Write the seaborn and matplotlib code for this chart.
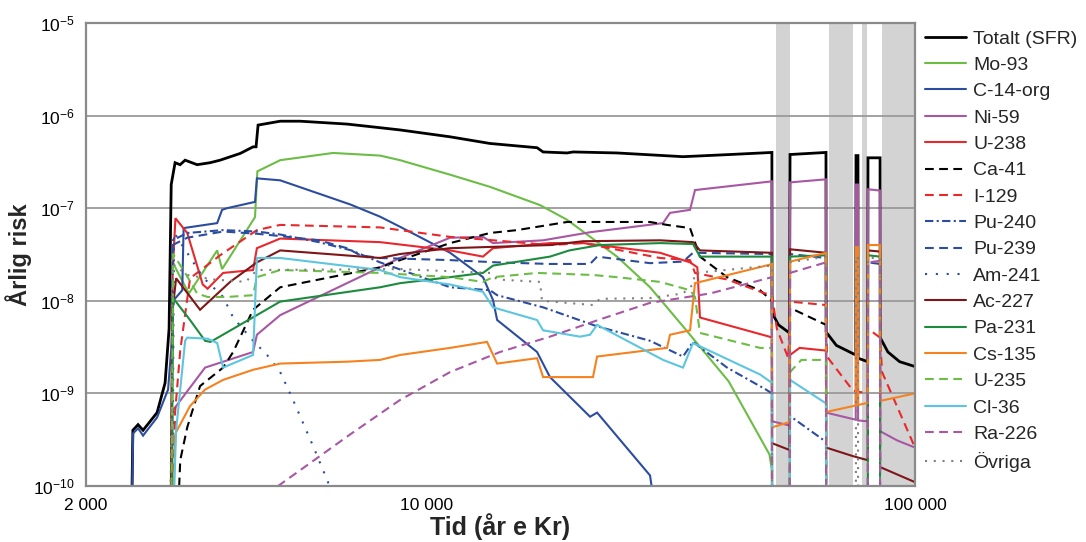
import numpy as np
import pandas as pd
import matplotlib
matplotlib.use('Agg')
import matplotlib.pyplot as plt
import seaborn as sns
from matplotlib.ticker import FixedLocator, FuncFormatter, NullFormatter

LOW = 1e-11  # below the axis floor, line runs off the bottom

# (year, annual risk)
totalt = [(2470, LOW), (2495, 4.0e-10), (2557, 4.6e-10), (2618, 4.0e-10), (2797, 6.2e-10), (2905, 1.3e-9),
          (2960, 5.0e-9), (2990, 1.8e-7), (3045, 3.1e-7), (3118, 2.95e-7), (3193, 3.3e-7), (3379, 2.95e-7),
          (3592, 3.1e-7), (3765, 3.3e-7), (4139, 3.9e-7), (4400, 4.6e-7), (4462, 4.6e-7), (4505, 7.9e-7),
          (5000, 8.7e-7), (5494, 8.7e-7), (6857, 8.1e-7), (8012, 7.4e-7), (8804, 7.0e-7), (11150, 5.9e-7),
          (13460, 5.0e-7), (16805, 4.5e-7), (17290, 4.05e-7), (19360, 3.95e-7), (19920, 4.05e-7),
          (24510, 3.95e-7), (33460, 3.6e-7), (41790, 3.8e-7), (50900, 4.0e-7), (50950, 7.4e-9),
          (52500, 5.5e-9), (55300, 4.5e-9), (55450, 3.8e-7), (65700, 4.0e-7), (65750, 4.6e-9),
          (69000, 3.3e-9), (75600, 2.6e-9), (75700, 3.7e-7), (76400, 3.7e-7), (76450, 2.4e-9),
          (80000, 2.2e-9), (80100, 3.5e-7), (84800, 3.5e-7), (84850, 4.0e-9), (88000, 2.8e-9),
          (93000, 2.2e-9), (100000, 1.95e-9)]
mo93 = [(2985, LOW), (3005, 2.7e-8), (3060, 2.2e-8), (3250, 1.2e-8), (3714, 3.5e-8), (3801, 2.2e-8),
        (4440, 8.0e-8), (4490, 2.5e-7), (5000, 3.3e-7), (6417, 3.95e-7), (8012, 3.7e-7), (8804, 3.3e-7),
        (11150, 2.3e-7), (13460, 1.7e-7), (17043, 1.08e-7), (19360, 7.5e-8), (24510, 3.0e-8),
        (28640, 1.4e-8), (33460, 5.3e-9), (41500, 1.35e-9), (50300, 2.2e-10), (50900, 1.5e-10), (50950, LOW)]
c14org = [(2470, LOW), (2498, 3.7e-10), (2557, 4.2e-10), (2618, 3.5e-10), (2797, 5.5e-10), (2946, 1.1e-9),
          (2990, 3.0e-9), (3017, 1.0e-8), (3150, 1.3e-8), (3170, 6.1e-8), (3714, 6.9e-8), (3801, 9.6e-8),
          (3890, 1.0e-7), (4440, 1.17e-7), (4480, 2.1e-7), (5000, 2.0e-7), (6953, 1.1e-7), (8012, 8.1e-8),
          (8804, 6.3e-8), (11150, 3.3e-8), (13020, 1.8e-8), (13650, 1.02e-8), (13920, 6.2e-9),
          (16805, 2.8e-9), (17860, 1.5e-9), (21580, 5.6e-10), (22310, 6.2e-10), (28640, 1.3e-10), (30740, LOW)]
ni59 = [(2990, LOW), (3010, 6.5e-10), (3508, 1.9e-9), (4400, 2.8e-9), (4480, 4.3e-9), (5000, 7.0e-9),
        (8012, 2.3e-8), (8804, 2.9e-8), (11150, 4.8e-8), (13020, 4.9e-8), (13650, 4.2e-8), (17290, 4.5e-8),
        (21580, 5.5e-8), (30450, 6.9e-8), (31470, 8.9e-8), (34590, 9.6e-8), (35410, 1.57e-7),
        (50900, 1.95e-7), (50950, 5.0e-10), (55300, 4.5e-10), (55450, 1.9e-7), (65700, 2.05e-7),
        (65750, 6.2e-10), (75600, 5.2e-10), (75700, 1.8e-7), (76400, 1.8e-7), (76450, 5.1e-10),
        (80000, 5.0e-10), (80100, 1.6e-7), (84800, 1.55e-7), (84850, 3.9e-10), (92000, 3.1e-10),
        (100000, 2.6e-10)]
u238 = [(2975, LOW), (3010, 2.0e-8), (3050, 7.8e-8), (3225, 5.4e-8), (3470, 1.5e-8), (3550, 1.35e-8),
        (3820, 2.0e-8), (4400, 2.15e-8), (4480, 3.7e-8), (5000, 4.7e-8), (8012, 4.3e-8), (11150, 3.5e-8),
        (13020, 3.0e-8), (13650, 3.7e-8), (17860, 4.2e-8), (20880, 4.2e-8), (30030, 3.3e-8),
        (34590, 2.6e-8), (35800, 2.3e-8), (36250, 6.6e-9), (50300, 4.1e-9), (50900, 4.0e-9),
        (50950, LOW), (55400, LOW), (55450, 2.6e-9), (58000, 3.1e-9), (65700, 2.9e-9), (65750, LOW)]
ca41 = [(3050, LOW), (3120, 1.9e-10), (3225, 4.3e-10), (3426, 1.2e-9), (3820, 1.9e-9), (4005, 2.8e-9),
        (4400, 8.0e-9), (5000, 1.4e-8), (8012, 2.3e-8), (8804, 2.75e-8), (11150, 4.2e-8), (13460, 5.4e-8),
        (15290, 5.8e-8), (19360, 7.1e-8), (28640, 7.1e-8), (31030, 6.6e-8), (34590, 6.1e-8),
        (36250, 3.0e-8), (41190, 1.8e-8), (48130, 1.3e-8), (50900, 1.0e-8), (50950, LOW), (55400, LOW),
        (55450, 8.4e-9), (65700, 5.5e-9), (65750, LOW)]
i129 = [(3000, LOW), (3045, 6.2e-10), (3120, 2.9e-9), (3268, 1.75e-8), (3765, 3.1e-8), (4480, 5.8e-8),
        (5000, 6.6e-8), (8012, 6.2e-8), (11150, 4.9e-8), (13020, 4.6e-8), (17860, 4.0e-8), (20880, 4.2e-8),
        (30030, 2.9e-8), (34590, 2.75e-8), (35410, 2.0e-8), (41190, 1.7e-8), (49270, 1.2e-8),
        (50900, 1.2e-8), (52100, 5.0e-9), (55000, 2.4e-9), (55450, 9.8e-9), (65700, 9.0e-9),
        (66000, 2.5e-9), (74640, 1.07e-9), (80000, 1.0e-9), (80100, 5.0e-9), (84800, 4.0e-9),
        (85600, 1.7e-9), (100000, 2.6e-10)]
pu240 = [(2990, LOW), (3010, 4.5e-8), (3225, 5.4e-8), (3820, 5.8e-8), (4480, 5.6e-8), (5000, 5.2e-8),
         (6000, 4.3e-8), (7000, 3.5e-8), (8012, 2.6e-8), (11150, 1.4e-8), (13460, 1.3e-8), (13920, 1.15e-8),
         (17290, 8.5e-9), (22310, 5.3e-9), (28640, 3.7e-9), (33460, 2.5e-9), (35080, 3.6e-9),
         (41190, 1.9e-9), (49500, 1.1e-9), (50900, 1.0e-9), (50950, LOW), (55400, LOW), (55450, 5.7e-10),
         (65700, 3.0e-10), (65750, LOW)]
pu239 = [(2990, LOW), (3010, 4.0e-8), (3225, 4.8e-8), (3820, 5.6e-8), (4480, 5.3e-8), (5000, 5.0e-8),
         (6000, 4.5e-8), (6857, 3.7e-8), (7300, 3.1e-8), (8012, 2.9e-8), (11150, 2.75e-8), (13920, 2.6e-8),
         (17860, 2.5e-8), (21580, 2.5e-8), (22310, 3.0e-8), (28640, 2.55e-8), (33460, 2.65e-8),
         (35080, 3.3e-8), (50900, 3.2e-8), (50950, LOW), (55400, LOW), (55450, 3.2e-8), (65700, 2.9e-8),
         (65750, LOW), (80050, LOW), (80100, 2.6e-8), (84800, 2.5e-8), (84850, LOW)]
am241 = [(3000, LOW), (3030, 5.5e-8), (3100, 4.5e-8), (3225, 3.3e-8), (3470, 1.8e-8), (3820, 1.1e-8),
         (4005, 6.6e-9), (4400, 3.7e-9), (4700, 2.6e-9), (5000, 1.7e-9), (5313, 8.5e-10), (5840, 2.7e-10),
         (6268, 1.1e-10), (6400, LOW)]
ac227 = [(2975, LOW), (3010, 8.0e-9), (3060, 1.75e-8), (3426, 8.0e-9), (3948, 1.6e-8), (4480, 2.6e-8),
         (5000, 3.5e-8), (8012, 2.9e-8), (8804, 3.2e-8), (11150, 3.7e-8), (17860, 4.0e-8), (20880, 4.4e-8),
         (30030, 4.5e-8), (35080, 4.3e-8), (36250, 3.5e-8), (50900, 3.3e-8), (50950, 2.9e-10),
         (55300, 2.45e-10), (55450, 3.6e-8), (65700, 3.3e-8), (65750, 2.6e-10), (74640, 2.1e-10),
         (80000, 1.9e-10), (80100, 3.5e-8), (84800, 3.4e-8), (84850, 1.6e-10), (100000, 1.1e-10)]
pa231 = [(2990, LOW), (3017, 1.07e-8), (3268, 6.2e-9), (3508, 3.7e-9), (3600, 3.6e-9), (5000, 9.8e-9),
         (8012, 1.4e-8), (8804, 1.55e-8), (11150, 1.8e-8), (13020, 2.0e-8), (13650, 2.4e-8),
         (17860, 3.0e-8), (19570, 3.5e-8), (22600, 4.0e-8), (30030, 4.2e-8), (35080, 4.1e-8),
         (36250, 3.0e-8), (50900, 3.0e-8), (50950, LOW), (55400, LOW), (55450, 3.0e-8), (65700, 3.1e-8),
         (65750, LOW), (80050, LOW), (80100, 3.1e-8), (84800, 3.0e-8), (84850, LOW)]
cs135 = [(2990, LOW), (3050, 3.7e-10), (3268, 7.3e-10), (3508, 1.1e-9), (3820, 1.4e-9), (4400, 1.8e-9),
         (5000, 2.1e-9), (6857, 2.2e-9), (8012, 2.3e-9), (8804, 2.6e-9), (11150, 3.1e-9), (13270, 3.6e-9),
         (13920, 2.1e-9), (16805, 2.4e-9), (17290, 1.5e-9), (21880, 1.5e-9), (22310, 2.5e-9),
         (31030, 3.1e-9), (31470, 4.3e-9), (34590, 4.8e-9), (35410, 1.55e-8), (50300, 2.45e-8),
         (50900, 2.5e-8), (50950, 4.3e-10), (55300, 4.9e-10), (55450, 2.65e-8), (65700, 3.3e-8),
         (65750, 6.3e-10), (75600, 7.4e-10), (75700, 3.8e-8), (76400, 3.8e-8), (76450, 7.5e-10),
         (80000, 7.9e-10), (80100, 4.0e-8), (84800, 4.0e-8), (84850, 8.3e-10), (100000, 1.0e-9)]
u235 = [(2985, LOW), (3017, 3.2e-8), (3193, 2.0e-8), (3379, 1.2e-8), (3550, 1.1e-8), (3890, 1.1e-8),
        (4400, 1.15e-8), (4480, 1.8e-8), (5000, 2.15e-8), (8012, 2.0e-8), (11150, 1.8e-8), (13020, 1.6e-8),
        (13650, 1.8e-8), (16805, 2.0e-8), (21880, 1.9e-8), (24500, 1.8e-8), (30030, 1.6e-8),
        (34590, 1.3e-8), (35410, 1.1e-8), (36250, 4.5e-9), (48130, 3.1e-9), (50900, 3.1e-9),
        (50950, LOW), (55400, LOW), (55450, 1.7e-9), (58500, 2.3e-9), (65700, 2.3e-9), (65750, LOW)]
cl36 = [(2990, LOW), (3060, 4.0e-10), (3193, 3.7e-9), (3225, 4.0e-9), (3550, 3.9e-9), (3714, 3.5e-9),
        (3820, 1.9e-9), (4400, 2.6e-9), (4480, 2.9e-8), (5000, 2.9e-8), (8012, 2.15e-8), (8804, 1.8e-8),
        (11150, 1.5e-8), (13020, 1.25e-8), (13650, 8.5e-9), (16805, 6.2e-9), (17290, 4.8e-9),
        (20580, 4.1e-9), (21580, 4.3e-9), (22310, 5.5e-9), (30450, 2.3e-9), (33460, 1.9e-9),
        (35080, 3.5e-9), (48130, 1.6e-9), (50900, 1.3e-9), (50950, LOW), (55400, LOW), (55450, 1.4e-9),
        (65700, 7.8e-10), (65750, LOW)]
ra226 = [(4900, LOW), (4951, 1.0e-10), (6953, 3.6e-10), (8804, 8.5e-10), (11150, 1.7e-9), (14110, 2.8e-9),
         (17860, 4.1e-9), (22620, 6.3e-9), (28640, 9.5e-9), (38020, 1.2e-8), (50300, 1.77e-8),
         (50900, 1.8e-8), (50950, LOW), (55400, LOW), (55450, 2.0e-8), (65700, 2.6e-8), (65750, LOW),
         (80050, LOW), (80100, 2.6e-8), (84800, 2.7e-8), (84850, LOW)]
ovriga = [(2970, LOW), (3010, 2.5e-8), (3225, 1.9e-8), (3650, 1.7e-8), (4250, 1.6e-8), (4480, 2.15e-8),
          (8804, 2.2e-8), (13460, 2.0e-8), (13920, 1.7e-8), (17040, 1.6e-8), (17200, 1.0e-8),
          (21880, 9.0e-9), (22620, 1.05e-8), (28640, 1.07e-8), (33460, 1.2e-8), (35080, 1.5e-8),
          (35410, 2.0e-8), (50900, 2.4e-8), (50950, LOW), (55400, LOW), (55450, 2.6e-8), (65700, 3.0e-8),
          (65750, LOW), (75650, LOW), (75700, 3.0e-8), (76400, 3.0e-8), (76450, LOW), (80050, LOW),
          (80100, 2.9e-8), (84800, 2.9e-8), (84850, LOW)]

# periods shaded grey in the reference
grey_start = [51900, 66600, 77900, 85600]
grey_end = [55450, 74640, 79700, 100000]

names = ['Totalt (SFR)', 'Mo-93', 'C-14-org', 'Ni-59', 'U-238', 'Ca-41', 'I-129', 'Pu-240', 'Pu-239',
         'Am-241', 'Ac-227', 'Pa-231', 'Cs-135', 'U-235', 'Cl-36', 'Ra-226', 'Övriga']
series = [totalt, mo93, c14org, ni59, u238, ca41, i129, pu240, pu239, am241, ac227, pa231, cs135, u235,
          cl36, ra226, ovriga]

BLACK, LGREEN, BLUE, PURPLE, RED = '#000000', '#6cbd45', '#2c4d9f', '#a857a3', '#e8282c'
DRED, DGREEN, ORANGE, CYAN, GREY = '#7e1518', '#1d8b3e', '#f5821f', '#5cc5e0', '#808080'
colors = [BLACK, LGREEN, BLUE, PURPLE, RED, BLACK, RED, BLUE, BLUE, BLUE, DRED, DGREEN, ORANGE,
          LGREEN, CYAN, PURPLE, GREY]
DASH = (4.2, 2.6)
styles = [None, None, None, None, None, DASH, DASH, (4.0, 1.6, 1.0, 1.6), DASH, (1.0, 4.2),
          None, None, None, DASH, None, DASH, (1.0, 3.2)]
widths = [2.0] + [1.5] * 16

sns.set_style('white')
plt.rcParams['font.family'] = ['Liberation Sans', 'DejaVu Sans']
plt.rcParams['mathtext.default'] = 'regular'

fig = plt.figure(figsize=(10.86, 5.42), dpi=100)
ax = fig.add_axes([86 / 1086, 1 - 486 / 542, (915 - 86) / 1086, (486 - 23) / 542])
ax.set_xscale('log')
ax.set_yscale('log')

for lo, hi in zip(grey_start, grey_end):
    ax.axvspan(lo, hi, color='#d3d3d3', lw=0, zorder=0)

for y in [1e-9, 1e-8, 1e-7, 1e-6]:
    ax.axhline(y, color='#9a9a9a', lw=1.3, zorder=0.5)

handles = []
for name, pts, col, dash, lw in zip(names, series, colors, styles, widths):
    df = pd.DataFrame(pts, columns=['tid', 'risk'])
    sns.lineplot(data=df, x='tid', y='risk', ax=ax, color=col, lw=lw, estimator=None, sort=False)
    line = ax.get_lines()[-1]
    if dash is not None:
        line.set_dashes(dash)
    line.set_solid_joinstyle('miter')
    handles.append(line)

ax.set_xlim(2000, 100000)
ax.set_ylim(1e-10, 1e-5)

ax.xaxis.set_major_locator(FixedLocator([2000, 10000, 100000]))
ax.xaxis.set_major_formatter(FuncFormatter(lambda v, p: f'{int(round(v)):,}'.replace(',', ' ')))
ax.xaxis.set_minor_locator(FixedLocator([3000, 4000, 5000, 6000, 7000, 8000, 9000,
                                         20000, 30000, 40000, 50000, 60000, 70000, 80000, 90000]))
ax.xaxis.set_minor_formatter(NullFormatter())
ax.yaxis.set_major_locator(FixedLocator([1e-10, 1e-9, 1e-8, 1e-7, 1e-6, 1e-5]))
ax.yaxis.set_major_formatter(FuncFormatter(lambda v, p: r'$10^{%d}$' % int(round(np.log10(v)))))
ax.yaxis.set_minor_locator(FixedLocator([m * 10.0 ** e for e in range(-10, -5) for m in range(2, 10)]))
ax.yaxis.set_minor_formatter(NullFormatter())

ax.tick_params(which='major', direction='out', length=4, width=1.2, color='#888888',
               labelsize=12.5, labelcolor='black', pad=4)
ax.tick_params(which='minor', direction='in', length=5, width=1.0, color='#999999')
ax.tick_params(axis='x', which='major', pad=5)

for sp in ax.spines.values():
    sp.set_color('#8a8a8a')
    sp.set_linewidth(1.6)
    sp.set_zorder(5)

ax.set_xlabel('Tid (år e Kr)', fontsize=18, fontweight='bold', labelpad=0)
ax.set_ylabel('Årlig risk', fontsize=17, fontweight='bold', labelpad=1)

fig.legend(handles, names, loc='upper left', bbox_to_anchor=(0.848, 0.952), frameon=False,
           fontsize=14, handlelength=2.1, handletextpad=0.4, labelspacing=0.45, borderpad=0.2,
           borderaxespad=0)

fig.savefig('out.png', dpi=100)
